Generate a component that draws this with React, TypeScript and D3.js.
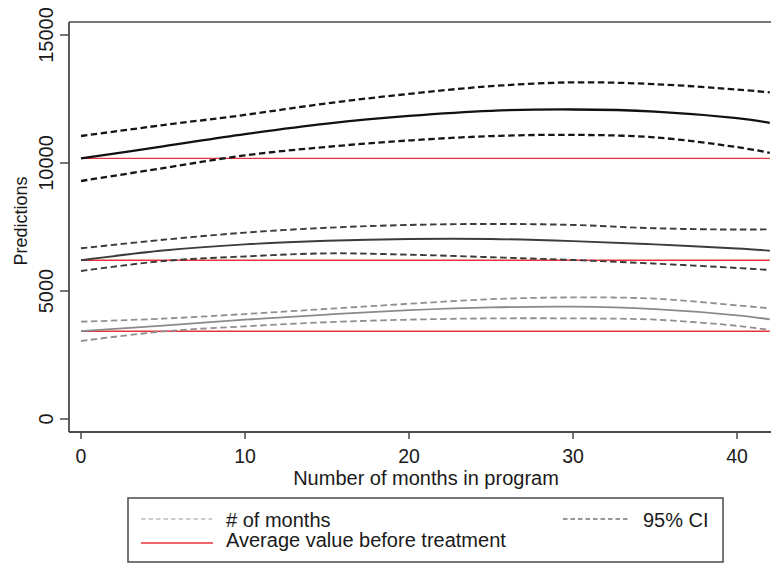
import React from "react";
import * as d3 from "d3";

// Months at which the fitted predictions are listed
const months = [0, 5, 10, 15, 20, 25, 30, 35, 40, 42];

// High group
const highMean = [10180, 10650, 11130, 11540, 11840, 12040, 12090, 12010, 11750, 11570];
const highUpper = [11055, 11480, 11880, 12330, 12700, 13000, 13150, 13080, 12870, 12760];
const highLower = [9297, 9800, 10300, 10630, 10880, 11050, 11100, 11000, 10620, 10400];
const highBase = 10180;

// Middle group
const midMean = [6200, 6580, 6820, 6960, 7030, 7030, 6950, 6820, 6660, 6575];
const midUpper = [6668, 7000, 7280, 7470, 7580, 7620, 7580, 7450, 7400, 7410];
const midLower = [5781, 6170, 6350, 6470, 6420, 6320, 6210, 6070, 5900, 5820];
const midBase = 6200;

// Low group
const lowMean = [3430, 3650, 3880, 4080, 4250, 4360, 4390, 4290, 4050, 3894];
const lowUpper = [3800, 3920, 4100, 4300, 4500, 4680, 4750, 4700, 4440, 4324];
const lowLower = [3047, 3420, 3620, 3780, 3880, 3930, 3930, 3880, 3640, 3477];
const lowBase = 3430;

const xTicks = [0, 10, 20, 30, 40];
const yTicks = [0, 5000, 10000, 15000];

const FONT = "'Liberation Sans', Arial, Helvetica, sans-serif";
const AXIS = "#4a4a4a";
const RED = "#e8333a";

export default function App() {
  const W = 771;
  const H = 569;
  const left = 69;
  const right = 782;
  const top = 22;
  const bottom = 432;

  const x = d3.scaleLinear().domain([0, 40]).range([81, 737]);
  const y = d3.scaleLinear().domain([0, 15000]).range([419, 35]);

  const line = d3
    .line<number>()
    .x((_, i) => x(months[i]))
    .y((v) => y(v))
    .curve(d3.curveCatmullRom.alpha(0.5));

  const groups = [
    { mean: highMean, upper: highUpper, lower: highLower, base: highBase, color: "#111111", dash: "#151515", w: 2.3 },
    { mean: midMean, upper: midUpper, lower: midLower, base: midBase, color: "#3c3c3c", dash: "#3a3a3a", w: 1.9 },
    { mean: lowMean, upper: lowUpper, lower: lowLower, base: lowBase, color: "#8a8a8a", dash: "#8f8f8f", w: 1.8 },
  ];

  return (
    <div style={{ position: "fixed", left: 0, top: 0, width: W, height: H, background: "#fff" }}>
      <svg width={W} height={H} style={{ display: "block", fontFamily: FONT }}>
        <rect x={0} y={0} width={W} height={H} fill="#fff" />
        <defs>
          <clipPath id="plot">
            <rect x={left} y={top} width={right - left} height={bottom - top} />
          </clipPath>
        </defs>

        <g clipPath="url(#plot)">
          {groups.map((g, k) => (
            <g key={k}>
              <line x1={x(0)} x2={x(42)} y1={y(g.base)} y2={y(g.base)} stroke={RED} strokeWidth={1.4} />
              <path d={line(g.upper) || ""} fill="none" stroke={g.dash} strokeWidth={g.w} strokeDasharray="6.5 3.5" />
              <path d={line(g.lower) || ""} fill="none" stroke={g.dash} strokeWidth={g.w} strokeDasharray="6.5 3.5" />
              <path d={line(g.mean) || ""} fill="none" stroke={g.color} strokeWidth={g.w} />
            </g>
          ))}
        </g>

        {/* plot frame */}
        <line x1={left} x2={right} y1={top} y2={top} stroke={AXIS} strokeWidth={1.6} />
        <line x1={left} x2={left} y1={top} y2={bottom} stroke={AXIS} strokeWidth={1.8} />
        <line x1={left} x2={right} y1={bottom} y2={bottom} stroke={AXIS} strokeWidth={1.8} />

        {/* y axis */}
        {yTicks.map((t) => (
          <g key={t}>
            <line x1={left - 9} x2={left} y1={y(t)} y2={y(t)} stroke={AXIS} strokeWidth={1.5} />
            <text
              transform={`translate(53,${y(t)}) rotate(-90)`}
              textAnchor="middle"
              fontSize={20}
              fill="#1a1a1a"
            >
              {t}
            </text>
          </g>
        ))}
        <text transform={`translate(27,221) rotate(-90)`} textAnchor="middle" fontSize={18} fill="#1a1a1a">
          Predictions
        </text>

        {/* x axis */}
        {xTicks.map((t) => (
          <g key={t}>
            <line x1={x(t)} x2={x(t)} y1={bottom} y2={bottom + 7} stroke={AXIS} strokeWidth={1.5} />
            <text x={x(t)} y={463} textAnchor="middle" fontSize={19.5} fill="#1a1a1a">
              {t}
            </text>
          </g>
        ))}
        <text x={426} y={485} textAnchor="middle" fontSize={20} fill="#1a1a1a">
          Number of months in program
        </text>

        {/* legend */}
        <rect x={128} y={498} width={595} height={64} fill="#fff" stroke={AXIS} strokeWidth={1.5} />
        <line x1={141} x2={212} y1={519} y2={519} stroke="#999" strokeWidth={1.2} strokeDasharray="4.5 3" />
        <text x={226} y={527} fontSize={20} fill="#1a1a1a"># of months</text>
        <line x1={141} x2={213} y1={543} y2={543} stroke={RED} strokeWidth={1.5} />
        <text x={226} y={547} fontSize={20} fill="#1a1a1a">Average value before treatment</text>
        <line x1={563} x2={629} y1={519} y2={519} stroke="#333" strokeWidth={1.2} strokeDasharray="4.5 3" />
        <text x={643} y={527} fontSize={20} fill="#1a1a1a">95% CI</text>
      </svg>
    </div>
  );
}
